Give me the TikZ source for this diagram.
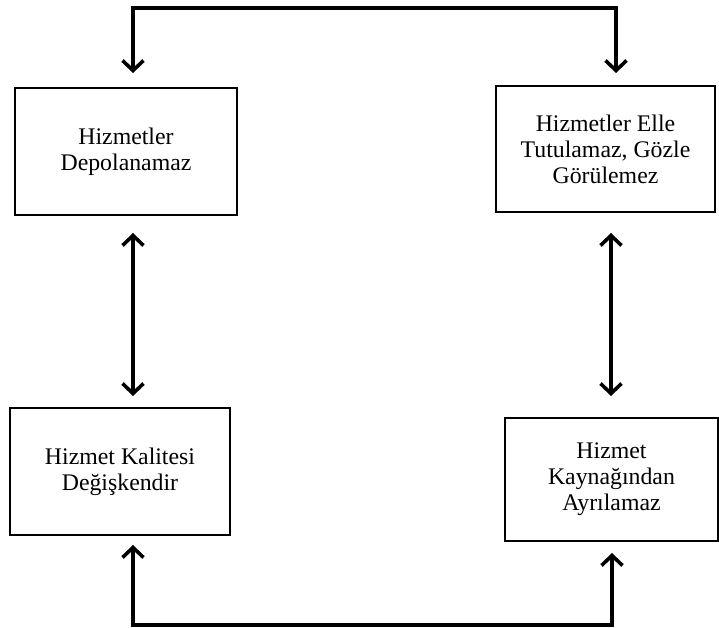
\documentclass[tikz,border=0pt]{standalone}
\usepackage{fontspec}
\setmainfont{Liberation Serif}
\usetikzlibrary{arrows.meta}
\begin{document}
\begin{tikzpicture}[x=1pt,y=-1pt,
  box/.style={draw, line width=1.8pt, align=center, inner sep=0pt,
    font=\fontsize{23.8}{26}\selectfont},
  conn/.style={line width=3.6pt, line join=miter},
  barb/.tip={Straight Barb[length=10pt,width=21pt,line width=3.6pt]}]
  % canvas
  \fill[white] (0,0) rectangle (719,628);
  \useasboundingbox (0,0) rectangle (719,628);

  % boxes
  \node[box, minimum width=222pt, minimum height=127pt] (dep) at (126,151.5)
    {Hizmetler\\Depolanamaz};
  \node[box, minimum width=219pt, minimum height=126pt] (tut) at (605.5,149)
    {Hizmetler Elle\\Tutulamaz, Gözle\\Görülemez};
  \node[box, minimum width=220pt, minimum height=127pt] (deg) at (120,471.5)
    {Hizmet Kalitesi\\Değişkendir};
  \node[box, minimum width=213pt, minimum height=123pt] (ayr) at (611.5,479.5)
    {Hizmet\\Kaynağından\\Ayrılamaz};

  % connector corners and arrow tips
  \coordinate (tl) at (133,8);
  \coordinate (tr) at (616,8);
  \coordinate (tA) at (133,73);
  \coordinate (tB) at (616,73);
  \coordinate (lA) at (133,233);
  \coordinate (lB) at (133,396);
  \coordinate (rA) at (611,233);
  \coordinate (rB) at (611,396);
  \coordinate (bl) at (133,625);
  \coordinate (br) at (612,625);
  \coordinate (bA) at (133,545);
  \coordinate (bB) at (612,553);

  % connectors
  \draw[conn, barb-barb] (tA) -- (tl) -- (tr) -- (tB);
  \draw[conn, barb-barb] (lA) -- (lB);
  \draw[conn, barb-barb] (rA) -- (rB);
  \draw[conn, barb-barb] (bA) -- (bl) -- (br) -- (bB);
\end{tikzpicture}
\end{document}
